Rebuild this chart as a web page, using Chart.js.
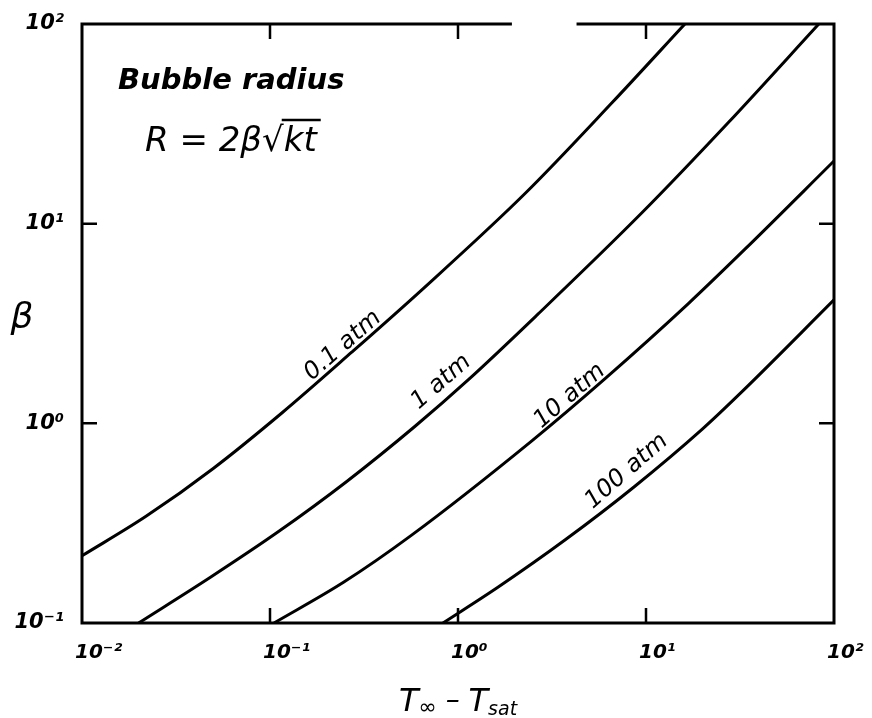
<!DOCTYPE html>
<html>
<head>
<meta charset="utf-8">
<script src="https://cdn.jsdelivr.net/npm/chart.js@4.4.1/dist/chart.umd.min.js"></script>
<style>
  body { margin: 0; background: #fff; }
  canvas { display: block; }
</style>
</head>
<body>
<canvas id="bubbleChart" width="872" height="718"></canvas>
<script>
// eksen değerleri
const xTicks = [0.01, 0.1, 1, 10, 100];
const xTickLabels = ['10⁻²', '10⁻¹', '10⁰', '10¹', '10²'];
const yTicks = [0.1, 1, 10, 100];
const yTickLabels = ['10⁻¹', '10⁰', '10¹', '10²'];

const curveNames = ['0.1 atm', '1 atm', '10 atm', '100 atm'];

// T∞ - Tsat ve β değerleri
const dT_01 = [0.01, 0.0219, 0.0501, 0.116, 0.272, 0.64, 2.28, 6.59, 16.1];
const beta_01 = [0.217, 0.342, 0.596, 1.13, 2.27, 4.65, 14.2, 40.3, 100];

const dT_1 = [0.02, 0.048, 0.111, 0.257, 0.589, 1.14, 2.66, 9.48, 27.5, 83];
const beta_1 = [0.1, 0.169, 0.287, 0.513, 0.964, 1.66, 3.52, 11.3, 32.2, 100];

const dT_10 = [0.105, 0.246, 0.562, 2.48, 6.08, 16.8, 33.5, 100];
const beta_10 = [0.1, 0.16, 0.274, 0.82, 1.68, 3.98, 7.43, 20.6];

const dT_100 = [0.832, 1.63, 3.72, 8.63, 20.0, 31.9, 100];
const beta_100 = [0.1, 0.151, 0.261, 0.48, 0.938, 1.42, 4.15];

// eğri etiketlerinin yeri (veri koordinatı)
const labelX = [0.244, 0.815, 3.93, 7.89];
const labelY = [2.45, 1.61, 1.37, 0.575];

const toPoints = (xs, ys) => xs.map((v, i) => ({ x: v, y: ys[i] }));

const seriesX = [dT_01, dT_1, dT_10, dT_100];
const seriesY = [beta_01, beta_1, beta_10, beta_100];

const handFont = 'DejaVu Sans';

const annotPlugin = {
    id: 'annot',
    afterDraw(chart) {
        const { ctx, chartArea: a, scales: { x, y } } = chart;
        ctx.save();
        ctx.strokeStyle = '#000';
        ctx.fillStyle = '#000';

        // çerçeve (üstte küçük bir boşluk var)
        ctx.lineWidth = 3;
        ctx.lineCap = 'square';
        const gapA = x.getPixelForValue(1.9);
        const gapB = x.getPixelForValue(4.35);
        ctx.beginPath();
        ctx.moveTo(gapA, a.top);
        ctx.lineTo(a.left, a.top);
        ctx.lineTo(a.left, a.bottom);
        ctx.lineTo(a.right, a.bottom);
        ctx.lineTo(a.right, a.top);
        ctx.lineTo(gapB, a.top);
        ctx.stroke();

        // içe dönük tik işaretleri
        ctx.lineWidth = 2.5;
        ctx.lineCap = 'butt';
        const tl = 15;
        ctx.beginPath();
        xTicks.slice(1, -1).forEach(v => {
            const px = x.getPixelForValue(v);
            ctx.moveTo(px, a.bottom); ctx.lineTo(px, a.bottom - tl);
            ctx.moveTo(px, a.top); ctx.lineTo(px, a.top + tl);
        });
        yTicks.slice(1, -1).forEach(v => {
            const py = y.getPixelForValue(v);
            ctx.moveTo(a.left, py); ctx.lineTo(a.left + tl, py);
            ctx.moveTo(a.right, py); ctx.lineTo(a.right - tl, py);
        });
        ctx.stroke();

        // eğri etiketleri
        ctx.font = `italic 24px "${handFont}"`;
        ctx.textAlign = 'center';
        ctx.textBaseline = 'middle';
        curveNames.forEach((name, i) => {
            ctx.save();
            ctx.translate(x.getPixelForValue(labelX[i]), y.getPixelForValue(labelY[i]));
            ctx.rotate(-41 * Math.PI / 180);
            ctx.fillText(name, 0, 0);
            ctx.restore();
        });

        // başlık metinleri
        ctx.textAlign = 'left';
        ctx.textBaseline = 'alphabetic';
        ctx.font = `italic bold 29px "${handFont}"`;
        ctx.fillText('Bubble radius', a.left + 36, 89);

        ctx.font = `italic 34px "${handFont}"`;
        const fx = a.left + 63, fy = 151;
        const pre = 'R = 2β√';
        const full = pre + 'kt';
        ctx.fillText(full, fx, fy);
        const wPre = ctx.measureText(pre).width;
        const wFull = ctx.measureText(full).width;
        ctx.lineWidth = 2.5;
        ctx.beginPath();
        ctx.moveTo(fx + wPre - 2, fy - 31);
        ctx.lineTo(fx + wFull + 4, fy - 31);
        ctx.stroke();

        // β ekseni
        ctx.font = `italic 36px "${handFont}"`;
        ctx.textAlign = 'center';
        ctx.fillText('β', 22, 328);

        // T∞ - Tsat
        const parts = [
            { t: 'T', size: 32, dy: 0 },
            { t: '∞', size: 22, dy: 3 },
            { t: ' – ', size: 28, dy: -2 },
            { t: 'T', size: 32, dy: 0 },
            { t: 'sat', size: 19, dy: 4 }
        ];
        let total = 0;
        parts.forEach(p => {
            ctx.font = `italic ${p.size}px "${handFont}"`;
            p.w = ctx.measureText(p.t).width;
            total += p.w;
        });
        let cx = (a.left + a.right) / 2 - total / 2;
        ctx.textAlign = 'left';
        parts.forEach(p => {
            ctx.font = `italic ${p.size}px "${handFont}"`;
            ctx.fillText(p.t, cx, 711 + p.dy);
            cx += p.w;
        });

        ctx.restore();
    }
};

const ctx = document.getElementById('bubbleChart').getContext('2d');

new Chart(ctx, {
    type: 'line',
    data: {
        datasets: curveNames.map((name, i) => ({
            label: name,
            data: toPoints(seriesX[i], seriesY[i]),
            borderColor: '#000',
            borderWidth: 3,
            pointRadius: 0,
            fill: false,
            cubicInterpolationMode: 'monotone'
        }))
    },
    options: {
        responsive: false,
        animation: false,
        layout: { padding: { top: 24, right: 38, left: 0, bottom: 0 } },
        plugins: {
            legend: { display: false },
            tooltip: { enabled: false }
        },
        scales: {
            x: {
                type: 'logarithmic',
                min: 0.01,
                max: 100,
                grid: { display: false },
                border: { display: false },
                afterBuildTicks: axis => { axis.ticks = xTicks.map(v => ({ value: v })); },
                afterFit: axis => {
                    axis.height = 95;
                    axis.paddingLeft = 0;
                    axis.paddingRight = 0;
                },
                ticks: {
                    autoSkip: false,
                    maxRotation: 0,
                    align: 'start',
                    labelOffset: -7,
                    padding: 10,
                    color: '#000',
                    font: { family: handFont, size: 20, style: 'italic', weight: 'bold' },
                    callback: (val) => {
                        const i = xTicks.findIndex(t => Math.abs(t - val) / t < 1e-6);
                        return i >= 0 ? xTickLabels[i] : '';
                    }
                }
            },
            y: {
                type: 'logarithmic',
                min: 0.1,
                max: 100,
                grid: { display: false },
                border: { display: false },
                afterBuildTicks: axis => { axis.ticks = yTicks.map(v => ({ value: v })); },
                afterFit: axis => {
                    axis.width = 82;
                    axis.paddingTop = 0;
                    axis.paddingBottom = 0;
                },
                ticks: {
                    autoSkip: false,
                    padding: 10,
                    color: '#000',
                    font: { family: handFont, size: 21, style: 'italic', weight: 'bold' },
                    callback: (val) => {
                        const i = yTicks.findIndex(t => Math.abs(t - val) / t < 1e-6);
                        return i >= 0 ? yTickLabels[i] : '';
                    }
                }
            }
        }
    },
    plugins: [annotPlugin]
});
</script>
</body>
</html>
